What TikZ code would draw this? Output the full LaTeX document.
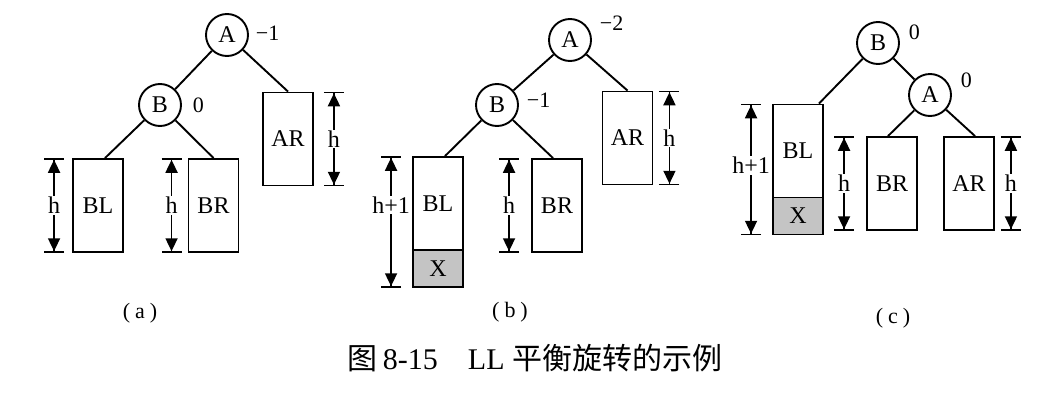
\documentclass[tikz,border=0pt]{standalone}
\usepackage{fontspec}
\usepackage{xcolor}
\usepackage{tikz}
\setmainfont{Liberation Serif}
\newfontfamily\cjk{Noto Sans CJK SC}
\usetikzlibrary{arrows.meta,positioning}
\definecolor{xgray}{RGB}{196,196,196}

\begin{document}
\begin{tikzpicture}[x=1pt,y=-1pt,line width=1.9pt,
  every node/.style={font=\fontsize{24}{26}\selectfont},
  vtx/.style={draw,circle,minimum size=42pt,inner sep=0pt},
  subtree/.style={draw,rectangle,minimum width=50pt,minimum height=93pt,inner sep=0pt},
  xpart/.style={draw,fill=xgray,minimum width=50pt,minimum height=37pt,inner sep=0pt},
  bal/.style={font=\fontsize{22}{24}\selectfont,inner sep=0pt,anchor=west},
  dimh/.style={line width=1.7pt,{Bar[width=20pt]Triangle[length=13pt,width=12pt]}-{Triangle[length=13pt,width=12pt]Bar[width=20pt]}},
  hlab/.style={fill=white,inner sep=1pt}]
\useasboundingbox (0,0) rectangle (1057,407);
% (a)
\node[vtx] (aA) at (227,35) {A};
\node[vtx] (aB) at (160,105) {B};
\node[subtree] (aBL) at (98,205.5) {BL};
\node[subtree] (aBR) at (213.5,205.5) {BR};
\node[subtree] (aAR) at (288,139) {AR};
\node[bal] at ([xshift=6pt,yshift=2pt]aA.east) {−1};
\node[bal] at ([xshift=10pt]aB.east) {0};
\draw (aA) -- (aB);
\draw (aA) -- (aAR.north);
\draw (aB) -- ([xshift=7pt]aBL.north);
\draw (aB) -- (aBR.north);
\draw[dimh] ([xshift=-18pt]aBL.north west) -- ([xshift=-18pt]aBL.south west) node[midway,hlab] {h};
\draw[dimh] ([xshift=-16pt]aBR.north west) -- ([xshift=-16pt]aBR.south west) node[midway,hlab] {h};
\draw[dimh] ([xshift=20pt]aAR.north east) -- ([xshift=20pt]aAR.south east) node[midway,hlab] {h};
\node (alab) at (140,313) {\fontsize{22}{24}\selectfont(\hspace{5pt}a\hspace{5pt})};
% (b)
\node[vtx] (bA) at (570,40) {A};
\node[vtx] (bB) at (497,105) {B};
\node[subtree] (bBL) at (438,203.5) {BL};
\node[xpart,below=-1.9pt of bBL] (bX) {X};
\node[subtree] (bBR) at (557,205.5) {BR};
\node[subtree] (bAR) at (627.5,138) {AR};
\node[bal] at ([xshift=7pt,yshift=17pt]bA.east) {−2};
\node[bal] at ([xshift=7pt,yshift=5pt]bB.east) {−1};
\draw (bA) -- (bB);
\draw (bA) -- (bAR.north);
\draw (bB) -- ([xshift=7pt]bBL.north);
\draw (bB) -- ([xshift=-4pt]bBR.north);
\draw[dimh] ([xshift=-21pt]bBL.north west) -- ([xshift=-21pt]bX.south west) node[pos=0.37,hlab] {h+1};
\draw[dimh] ([xshift=-22pt]bBR.north west) -- ([xshift=-22pt]bBR.south west) node[midway,hlab] {h};
\draw[dimh] ([xshift=16pt]bAR.north east) -- ([xshift=16pt]bAR.south east) node[midway,hlab] {h};
\node (blab) at (510,312) {\fontsize{22}{24}\selectfont(\hspace{5pt}b\hspace{5pt})};
% (c)
\node[vtx] (cB) at (878,43) {B};
\node[vtx] (cA) at (930,95) {A};
\node[subtree] (cBL) at (798,151) {BL};
\node[xpart,below=-1.9pt of cBL] (cX) {X};
\node[subtree] (cBR) at (892,183.5) {BR};
\node[subtree] (cAR) at (969,183.5) {AR};
\node[bal] at ([xshift=8pt,yshift=11pt]cB.east) {0};
\node[bal] at ([xshift=8pt,yshift=15pt]cA.east) {0};
\draw (cB) -- ([xshift=-5pt]cBL.north east);
\draw (cB) -- (cA);
\draw (cA) -- ([xshift=-4pt]cBR.north);
\draw (cA) -- ([xshift=6pt]cAR.north);
\draw[dimh] ([xshift=-21pt]cBL.north west) -- ([xshift=-21pt]cX.south west) node[pos=0.47,hlab] {h+1};
\draw[dimh] ([xshift=-22pt]cBR.north west) -- ([xshift=-22pt]cBR.south west) node[midway,hlab] {h};
\draw[dimh] ([xshift=16pt]cAR.north east) -- ([xshift=16pt]cAR.south east) node[midway,hlab] {h};
\node (clab) at (893,318) {\fontsize{22}{24}\selectfont(\hspace{5pt}c\hspace{5pt})};
% caption
\node (cap) at (535,358) {\fontsize{30}{34}\selectfont{\cjk 图}\,8-15\hspace{30pt}LL {\cjk 平衡旋转的示例}};
\end{tikzpicture}
\end{document}
